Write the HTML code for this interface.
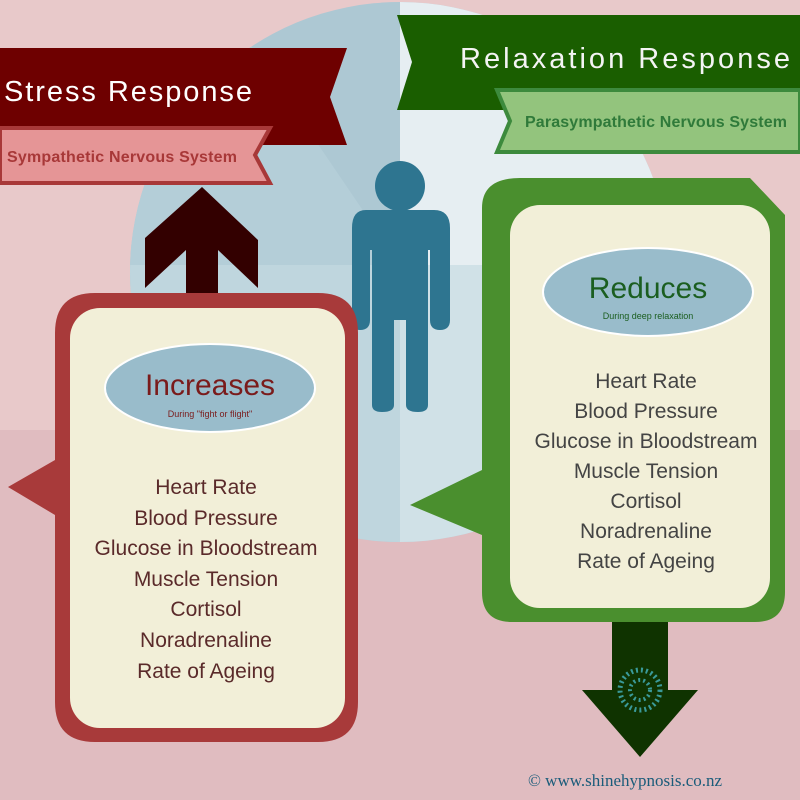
<!DOCTYPE html>
<html><head><meta charset="utf-8"><style>
html,body{margin:0;padding:0;width:800px;height:800px;overflow:hidden;background:#e8c9ca}
</style></head><body>
<svg width="800" height="800" viewBox="0 0 800 800" xmlns="http://www.w3.org/2000/svg">
<rect width="800" height="800" fill="#e8c9ca"/>
<rect y="430" width="800" height="370" fill="#e0bcc0"/>
<defs><clipPath id="c"><circle cx="400" cy="272" r="270"/></clipPath></defs>
<g clip-path="url(#c)">
<rect x="120" y="0" width="560" height="560" fill="#adc8d3"/>
<polygon points="400,0 700,0 700,265 400,265" fill="#e6eef2"/>
<polygon points="400,265 700,265 700,560 400,560" fill="#d0e1e7"/>
<polygon points="120,265 400,265 400,560 120,560" fill="#bfd6de"/>
<polygon points="220,0 400,265 120,265 120,0" fill="#b4ced8"/>
</g>
<!-- Stress banner -->
<polygon points="0,48 347,48 330,97 347,145 0,145" fill="#6e0000"/>
<text x="4" y="101" font-family="'Liberation Sans',sans-serif" font-size="29" fill="#fff" textLength="248">Stress Response</text>
<polygon points="0,128 270,128 255,155 270,183 0,183" fill="#e59596" stroke="#a83838" stroke-width="4"/>
<text x="7" y="162" font-family="'Liberation Sans',sans-serif" font-size="16" font-weight="bold" fill="#a83838" textLength="230">Sympathetic Nervous System</text>
<!-- Relaxation banner -->
<polygon points="397,15 800,15 800,110 397,110 412,62" fill="#1a5e00"/>
<text x="460" y="68" font-family="'Liberation Sans',sans-serif" font-size="29" fill="#f4f4f4" textLength="330">Relaxation Response</text>
<polygon points="497,90 800,90 800,152 497,152 510,121" fill="#93c47d" stroke="#3d8a3d" stroke-width="4"/>
<text x="525" y="127" font-family="'Liberation Sans',sans-serif" font-size="16" font-weight="bold" fill="#2f7a3a" textLength="262">Parasympathetic Nervous System</text>
<!-- up arrow -->
<polygon points="145,238 202,187 258,240 258,288 218,250 218,300 186,300 186,250 145,288" fill="#330000"/>
<!-- person -->
<circle cx="400" cy="186" r="25" fill="#2e7590"/>
<path d="M366,210 H434 Q450,210 450,228 V320 Q450,330 440,330 Q430,330 430,320 V250 H428 V405 Q428,412 418,412 Q406,412 406,405 V320 H394 V405 Q394,412 382,412 Q372,412 372,405 V250 H370 V320 Q370,330 360,330 Q352,330 352,320 V228 Q352,210 366,210Z" fill="#2e7590"/>
<!-- left box -->
<path d="M95,293 H318 Q358,293 358,333 V702 Q358,742 318,742 H95 Q55,742 55,702 V515 L8,487 L55,460 V333 Q55,293 95,293Z" fill="#a83a3a"/>
<rect x="70" y="308" width="275" height="420" rx="30" fill="#f2efd8"/>
<!-- right box -->
<path d="M520,178 H750 L785,215 V592 Q785,622 755,622 H512 Q482,622 482,592 V535 L410,505 L482,470 V208 Q482,178 520,178Z" fill="#4a8f2e"/>
<rect x="510" y="205" width="260" height="403" rx="30" fill="#f2efd8"/>
<!-- down arrow -->
<polygon points="612,622 668,622 668,690 698,690 640,757 582,690 612,690" fill="#0f3300"/>
<circle cx="640" cy="690" r="20" fill="none" stroke="#3a9a9a" stroke-width="5" stroke-dasharray="2 3"/>
<circle cx="640" cy="690" r="10" fill="none" stroke="#3a9a9a" stroke-width="4" stroke-dasharray="2 3"/>
<!-- badges -->
<ellipse cx="210" cy="388" rx="105" ry="44" fill="#99bccb" stroke="#fff" stroke-width="2"/>
<text x="210" y="395" text-anchor="middle" font-family="'Liberation Sans',sans-serif" font-size="30" fill="#7a1b1b">Increases</text>
<text x="210" y="417" text-anchor="middle" font-family="'Liberation Sans',sans-serif" font-size="9" fill="#7a1b1b">During "fight or flight"</text>
<ellipse cx="648" cy="292" rx="105" ry="44" fill="#99bccb" stroke="#fff" stroke-width="2"/>
<text x="648" y="298" text-anchor="middle" font-family="'Liberation Sans',sans-serif" font-size="30" fill="#1b5e20">Reduces</text>
<text x="648" y="319" text-anchor="middle" font-family="'Liberation Sans',sans-serif" font-size="9" fill="#1b5e20">During deep relaxation</text>
<g font-family="'Liberation Sans',sans-serif" font-size="21" fill="#5a2a2a" text-anchor="middle">
<text x="206" y="494">Heart Rate</text>
<text x="206" y="525">Blood Pressure</text>
<text x="206" y="555">Glucose in Bloodstream</text>
<text x="206" y="586">Muscle Tension</text>
<text x="206" y="616">Cortisol</text>
<text x="206" y="647">Noradrenaline</text>
<text x="206" y="678">Rate of Ageing</text>
</g>
<g font-family="'Liberation Sans',sans-serif" font-size="21" fill="#444" text-anchor="middle">
<text x="646" y="388">Heart Rate</text>
<text x="646" y="418">Blood Pressure</text>
<text x="646" y="448">Glucose in Bloodstream</text>
<text x="646" y="478">Muscle Tension</text>
<text x="646" y="508">Cortisol</text>
<text x="646" y="538">Noradrenaline</text>
<text x="646" y="568">Rate of Ageing</text>
</g>
<text x="528" y="786" font-family="'Liberation Serif',serif" font-size="17" fill="#1a5c7a">© www.shinehypnosis.co.nz</text>
</svg>
</body></html>
